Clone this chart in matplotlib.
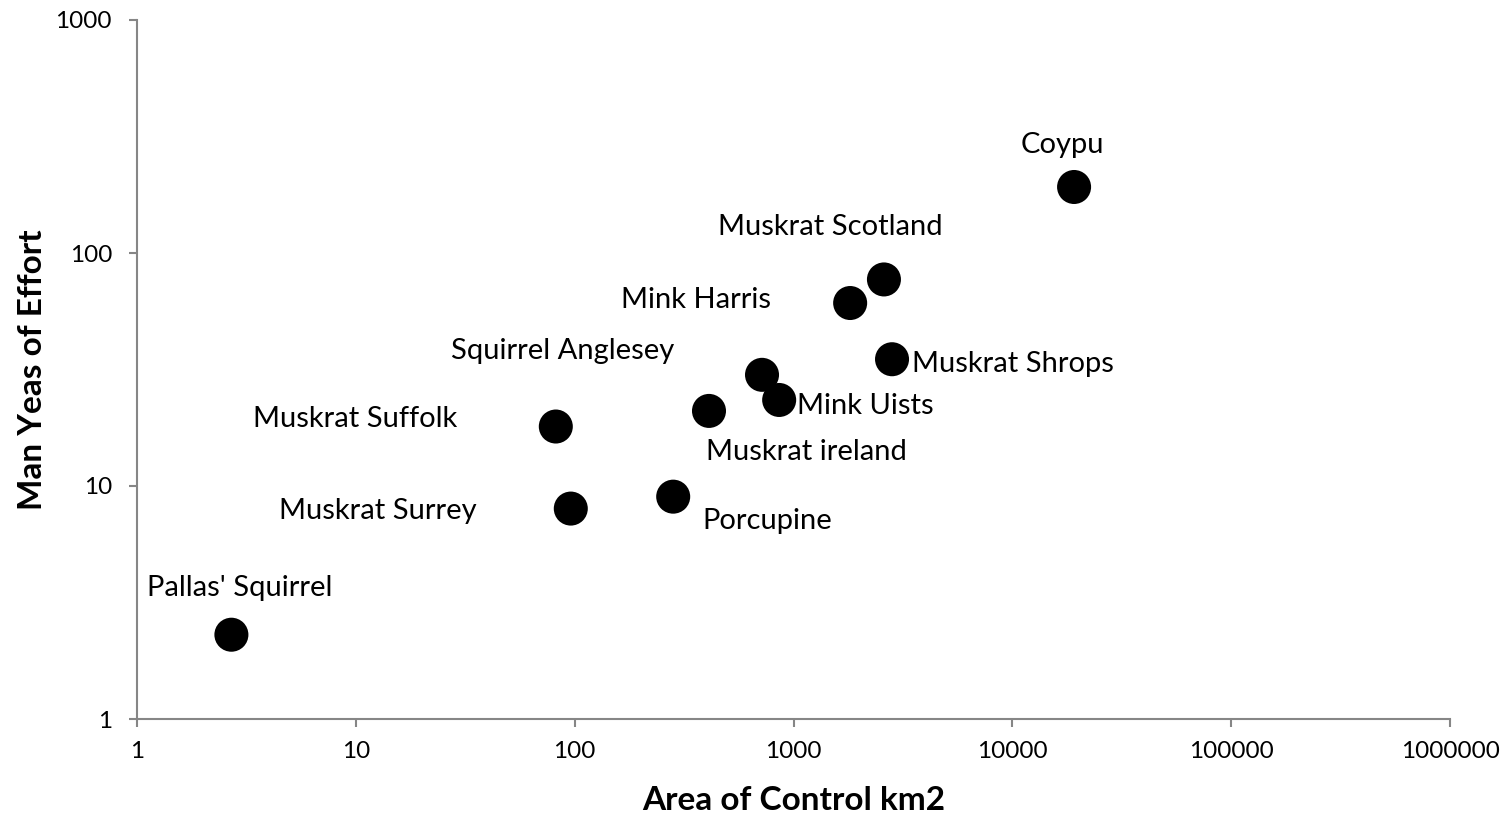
import matplotlib
matplotlib.use("Agg")
from matplotlib import pyplot as plt

# values
species = [
    "Coypu", "Muskrat Scotland", "Mink Harris", "Squirrel Anglesey",
    "Muskrat Shrops", "Mink Uists", "Muskrat Suffolk", "Muskrat ireland",
    "Muskrat Surrey", "Porcupine", "Pallas' Squirrel",
]
area_km2 = [19150, 2590, 1815, 718, 2820, 860, 82, 411, 96, 282, 2.7]
man_years = [192, 77, 61, 30, 35, 23.4, 18, 21, 8, 9, 2.3]

# label placement: (dx, dy in pixels, horizontal alignment)
label_pos = [
    (-12, 42, "center"), (-54, 52, "center"), (-79, 3, "right"),
    (-88, 24, "right"), (20, -5, "left"), (18, -6, "left"),
    (-99, 8, "right"), (-3, -41, "left"), (-94, -2, "right"),
    (29, -24, "left"), (8, 47, "center"),
]

plt.rcParams["font.family"] = ["Lato", "DejaVu Sans"]
axis_grey = "#868686"

fig = plt.figure(figsize=(15.06, 8.19), dpi=100)
ax = fig.add_axes([137 / 1506, 1 - 719 / 819, (1450 - 137) / 1506, (719 - 20) / 819])

ax.scatter(area_km2, man_years, s=600, c="black", edgecolors="none", zorder=3)
for name, x, y, (dx, dy, ha) in zip(species, area_km2, man_years, label_pos):
    ax.annotate(name, (x, y), xytext=(dx, dy), textcoords="offset pixels",
                ha=ha, va="center", fontsize=21)

ax.set_xscale("log")
ax.set_yscale("log")
ax.set_xlim(1, 1e6)
ax.set_ylim(1, 1000)
ax.set_xticks([1, 10, 100, 1000, 10000, 100000, 1000000])
ax.set_xticklabels(["1", "10", "100", "1000", "10000", "100000", "1000000"])
ax.set_yticks([1, 10, 100, 1000])
ax.set_yticklabels(["1", "10", "100", "1000"])
ax.minorticks_off()

for side in ["top", "right"]:
    ax.spines[side].set_visible(False)
for side in ["left", "bottom"]:
    ax.spines[side].set_color(axis_grey)
    ax.spines[side].set_linewidth(1.5)
ax.tick_params(axis="both", colors=axis_grey, labelcolor="black", length=6,
               width=1.5, labelsize=17.5)
ax.tick_params(axis="x", pad=10)
ax.tick_params(axis="y", pad=12)

ax.set_xlabel("Area of Control km2", fontsize=24, fontweight="bold", labelpad=17)
ax.set_ylabel("Man Yeas of Effort", fontsize=24, fontweight="bold", labelpad=6)

fig.savefig("out.png", dpi=100)
